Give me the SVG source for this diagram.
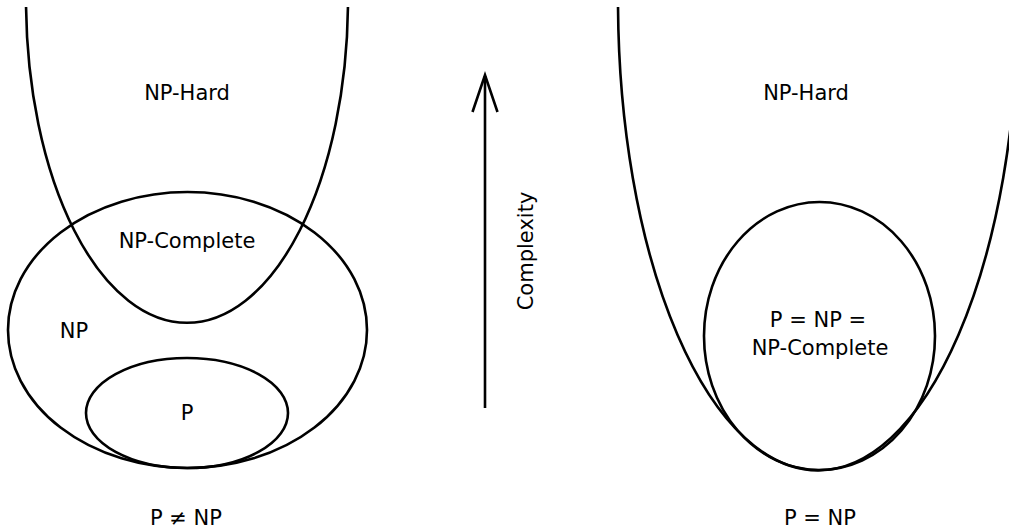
<svg xmlns="http://www.w3.org/2000/svg" width="1009" height="528" viewBox="0 0 1009 528">
<style>
.s{fill:none;stroke:#000;stroke-width:2.6}
text{font-family:"DejaVu Sans",Verdana,sans-serif;font-size:21px;fill:#000;text-anchor:middle}
</style>
<rect width="1009" height="528" fill="#fff"/>
<g id="left-diagram">
  <g id="np-hard-left"><path class="s" d="M 26.04 7 A 161 323 0 0 0 347.96 7"/><text x="187" y="100">NP-Hard</text></g>
  <g id="np-left"><ellipse class="s" cx="187.5" cy="330" rx="179.5" ry="138"/><text x="74" y="338">NP</text></g>
  <g id="np-complete-left"><text x="187" y="248">NP-Complete</text></g>
  <g id="p-left"><ellipse class="s" cx="187" cy="413" rx="101" ry="55"/><text x="187" y="420">P</text></g>
  <text x="186" y="525">P ≠ NP</text>
</g>
<g id="connectors">
  <line class="s" x1="485" y1="408" x2="485" y2="76"/>
  <polyline class="s" stroke-width="3" stroke-linejoin="miter" points="472.5,112 485,75 497.5,112"/>
</g>
<g id="complexity-label"><text transform="translate(533 251) rotate(-90)">Complexity</text></g>
<g id="right-diagram">
  <g id="np-hard-right"><path class="s" d="M 618.02 7 A 200 470 0 0 0 1017.98 7"/><text x="806" y="100">NP-Hard</text></g>
  <g id="p-np-right"><ellipse class="s" cx="819.5" cy="336" rx="115.5" ry="134"/><text x="818" y="327">P = NP =</text><text x="820" y="355">NP-Complete</text></g>
  <text x="820" y="525">P = NP</text>
</g>
</svg>
